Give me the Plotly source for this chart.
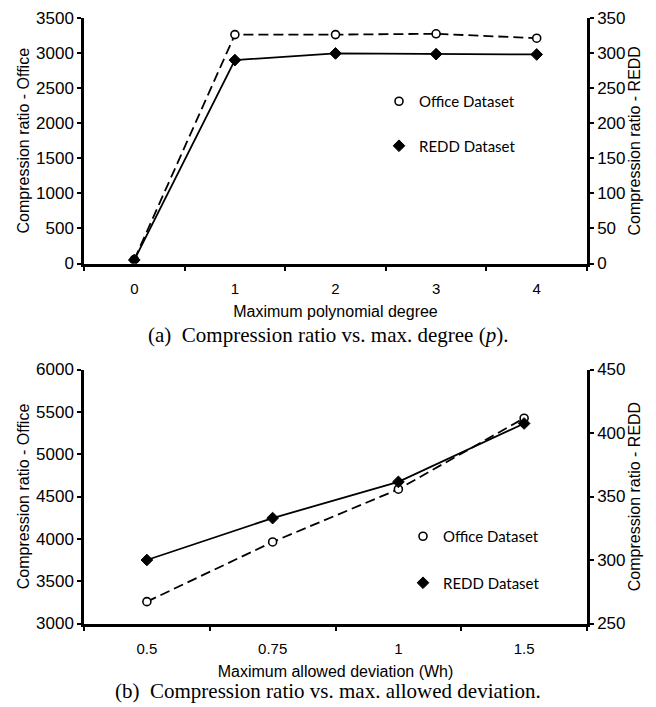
import plotly.graph_objects as go

# ---- data ----
degree_labels = ["0", "1", "2", "3", "4"]
office_degree = [55, 3263, 3263, 3275, 3212]
redd_degree = [5, 290, 299.5, 298.5, 298]

deviation_labels = ["0.5", "0.75", "1", "1.5"]
office_dev = [3258, 3963, 4586, 5425]
redd_dev = [300, 333, 361.5, 407.5]

# page body has an 8px margin, so the figure starts at (8, 8)
OFF = 8
W, H = 656 - OFF, 707 - OFF
def px_x(p): return (p - OFF) / W
def px_y(p): return 1 - (p - OFF) / H

BLACK = "black"
AXFONT = "Liberation Sans, Arial, sans-serif"

office_line = dict(color=BLACK, width=1.8, dash="10px,5px")
office_marker = dict(symbol="circle", size=8, color="white", line=dict(color=BLACK, width=1.6))
redd_line = dict(color=BLACK, width=1.8)
redd_marker = dict(symbol="diamond", size=9, color=BLACK, line=dict(color=BLACK, width=1))

fig = go.Figure()

# top chart
fig.add_trace(go.Scatter(x=degree_labels, y=office_degree, mode="lines+markers",
                         line=office_line, marker=office_marker, xaxis="x", yaxis="y",
                         showlegend=False, name="Office Dataset"))
fig.add_trace(go.Scatter(x=degree_labels, y=redd_degree, mode="lines+markers",
                         line=redd_line, marker=redd_marker, xaxis="x", yaxis="y2",
                         showlegend=False, name="REDD Dataset"))
# legend entries (top)
fig.add_trace(go.Scatter(x=[None], y=[None], mode="markers", marker=office_marker,
                         name="Office Dataset", xaxis="x", yaxis="y", legend="legend",
                         legendgroup="a1"))
fig.add_trace(go.Scatter(x=[None], y=[None], mode="markers", marker=redd_marker,
                         name="REDD Dataset", xaxis="x", yaxis="y", legend="legend",
                         legendgroup="a2"))

# bottom chart
fig.add_trace(go.Scatter(x=deviation_labels, y=office_dev, mode="lines+markers",
                         line=office_line, marker=office_marker, xaxis="x2", yaxis="y3",
                         showlegend=False, name="Office Dataset"))
fig.add_trace(go.Scatter(x=deviation_labels, y=redd_dev, mode="lines+markers",
                         line=redd_line, marker=redd_marker, xaxis="x2", yaxis="y4",
                         showlegend=False, name="REDD Dataset"))
fig.add_trace(go.Scatter(x=[None], y=[None], mode="markers", marker=office_marker,
                         name="Office Dataset", xaxis="x2", yaxis="y3", legend="legend2",
                         legendgroup="b1"))
fig.add_trace(go.Scatter(x=[None], y=[None], mode="markers", marker=redd_marker,
                         name="REDD Dataset", xaxis="x2", yaxis="y3", legend="legend2",
                         legendgroup="b2"))

xdom = [px_x(84), px_x(587)]
top_dom = [px_y(263.5), px_y(18)]
bot_dom = [px_y(623.5), px_y(369.5)]

def xaxis(title, cats, dom_anchor):
    return dict(
        type="category", categoryorder="array", categoryarray=cats,
        range=[-0.5, len(cats) - 0.5], domain=xdom, anchor=dom_anchor,
        showline=True, linecolor=BLACK, linewidth=2.5, showgrid=False, zeroline=False,
        ticks="outside", tickson="boundaries", ticklen=5, tickwidth=1.5, tickcolor=BLACK,
        ticklabelstandoff=10,
        tickfont=dict(family=AXFONT, size=15, color=BLACK),
        title=dict(text=title, font=dict(family=AXFONT, size=16, color=BLACK), standoff=10),
        automargin=False, fixedrange=True,
    )

def yaxis(title, rng, dtick, dom, side, anchor, overlaying=None):
    d = dict(
        range=rng, dtick=dtick, domain=dom, side=side, anchor=anchor,
        showline=True, linecolor=BLACK, linewidth=2.5, showgrid=False, zeroline=False,
        ticks="outside", ticklen=4, tickwidth=1.5, tickcolor=BLACK,
        ticklabeloverflow="allow",
        tickfont=dict(family=AXFONT, size=17, color=BLACK),
        title=dict(text=title, font=dict(family=AXFONT, size=16, color=BLACK), standoff=3),
        automargin=False, fixedrange=True,
    )
    if overlaying:
        d["overlaying"] = overlaying
    return d

fig.update_layout(
    width=W, height=H,
    margin=dict(l=0, r=0, t=0, b=0, pad=0, autoexpand=False),
    paper_bgcolor="white", plot_bgcolor="white",
    xaxis=xaxis("Maximum polynomial degree", degree_labels, "y"),
    yaxis=yaxis("Compression ratio - Office", [0, 3500], 500, top_dom, "left", "x"),
    yaxis2=yaxis("Compression ratio - REDD", [0, 350], 50, top_dom, "right", "x", "y"),
    xaxis2=xaxis("Maximum allowed deviation (Wh)", deviation_labels, "y3"),
    yaxis3=yaxis("Compression ratio - Office", [3000, 6000], 500, bot_dom, "left", "x2"),
    yaxis4=yaxis("Compression ratio - REDD", [250, 450], 50, bot_dom, "right", "x2", "y3"),
    legend=dict(x=px_x(379), y=px_y(85), xanchor="left", yanchor="top",
                bgcolor="rgba(0,0,0,0)", tracegroupgap=22,
                font=dict(family="Lato, Carlito, sans-serif", size=15, color=BLACK)),
    legend2=dict(x=px_x(403), y=px_y(520), xanchor="left", yanchor="top",
                 bgcolor="rgba(0,0,0,0)", tracegroupgap=24,
                 font=dict(family="Lato, Carlito, sans-serif", size=15, color=BLACK)),
    annotations=[
        dict(text="(a)  Compression ratio vs. max. degree (<i>p</i>).", x=px_x(328), y=px_y(335),
             xref="paper", yref="paper", xanchor="center", yanchor="middle", showarrow=False,
             font=dict(family="Liberation Serif, Times New Roman, serif", size=21, color=BLACK)),
        dict(text="(b)  Compression ratio vs. max. allowed deviation.", x=px_x(328), y=px_y(691),
             xref="paper", yref="paper", xanchor="center", yanchor="middle", showarrow=False,
             font=dict(family="Liberation Serif, Times New Roman, serif", size=21, color=BLACK)),
    ],
)

fig.write_html("out.html")
